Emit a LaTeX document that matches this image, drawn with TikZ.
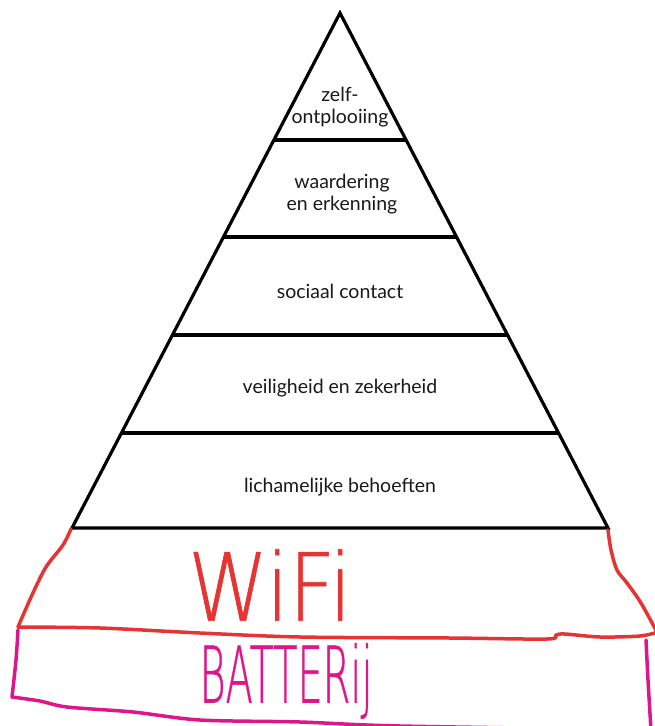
\documentclass[tikz,border=0pt]{standalone}
\usepackage{fontspec}
\setmainfont{Lato}
\newfontfamily\handfont[FakeBold=0.8]{DejaVu Sans ExtraLight}
\definecolor{wifired}{RGB}{229,52,52}
\definecolor{battpink}{RGB}{221,22,140}
\tikzset{
  level/.style={font=\fontsize{19.5}{22}\selectfont, align=center, text=black!90, inner sep=0pt},
  pen/.style={line width=3.5pt, line cap=round, line join=round},
  scrawl/.style={inner sep=0pt}
}

\begin{document}
\begin{tikzpicture}[x=1pt,y=-1pt]
\useasboundingbox (0,0) rectangle (654,726);
\coordinate (top) at (340,13);
\coordinate (bl) at (72,528);
\coordinate (br) at (608,528);
\draw[line width=3.2pt, line join=miter] (bl)--(top)--(br)--cycle;
\foreach \h in {140,237,335,433}
  \draw[line width=3.2pt] ({340-0.5204*(\h-13)},\h)--({340+0.5204*(\h-13)},\h);
% levels
\node[level] (zelf) at (340,107) {zelf-\\ontplooiing};
\node[level] (waard) at (342,194) {waardering\\en erkenning};
\node[level] (sociaal) at (340,291) {sociaal contact};
\node[level] (veilig) at (340,388) {veiligheid en zekerheid};
\node[level] (licham) at (340,487) {lichamelijke behoeften};
% wifi layer
\draw[pen, wifired] plot[smooth] coordinates {(71,529) (63,545) (46,567) (32,595) (18,627)};
\draw[pen, wifired] plot[smooth] coordinates {(18,627) (100,628) (200,633) (300,637) (450,638) (547,639) (556,635) (565,634) (600,637) (640,636) (658,632)};
\draw[pen, wifired] plot[smooth] coordinates {(608,530) (611,550) (617,570) (627,583) (641,603) (658,634)};
\node[scrawl, text=wifired, font=\handfont\fontsize{94}{94}\selectfont] (wifi) at (270,585) {\scalebox{0.86}[1]{WiFi}};
% battery layer
\draw[pen, battpink] plot[smooth] coordinates {(18,630) (16,660) (12,697)};
\draw[pen, battpink] plot[smooth] coordinates {(12,697) (40,701) (67,707) (133,712) (200,720) (300,722) (400,726) (660,730)};
\draw[pen, battpink] plot[smooth] coordinates {(646,640) (648,680) (651,730)};
\node[scrawl, text=battpink, font=\handfont\fontsize{78}{78}\selectfont] (batt) at (286,681) {\scalebox{0.51}[1]{BATTERij}};
\end{tikzpicture}
\end{document}
